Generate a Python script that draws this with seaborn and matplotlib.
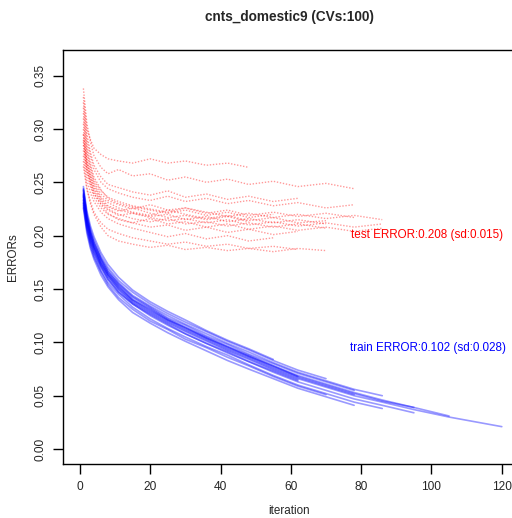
import numpy as np
import pandas as pd
import matplotlib
matplotlib.use('Agg')
import matplotlib.pyplot as plt
import seaborn as sns

sns.set_theme(style='white')
plt.rcParams['font.family'] = ['Liberation Sans', 'DejaVu Sans']

title = 'cnts_domestic9 (CVs:100)'
x_ticks = [0, 20, 40, 60, 80, 100, 120]
y_ticks = [0.00, 0.05, 0.10, 0.15, 0.20, 0.25, 0.30, 0.35]
test_label = 'test ERROR:0.208 (sd:0.015)'
train_label = 'train ERROR:0.102 (sd:0.028)'

iterations = [1, 2, 3, 4, 6, 8, 11, 15, 20, 25, 30, 36, 42, 48, 55, 62, 70, 78, 86, 95, 105, 120]

# train error curves (a sample of the 100 CV runs), each ends at its own iteration
train_curves = [
    [.244, .220, .206, .196, .181, .170, .158, .147, .136, .127, .119, .110, .101, .093, .083, .074, .066],
    [.230, .206, .192, .182, .167, .156, .145, .133, .122, .113, .105, .096, .088, .079, .069, .060, .052, .044, .038],
    [.240, .215, .201, .190, .176, .164, .153, .140, .131, .121, .114, .104, .096, .087, .078, .068],
    [.226, .202, .188, .178, .163, .152, .140, .128, .118, .109, .101, .092, .083, .075, .066, .057, .049, .041],
    [.236, .212, .198, .188, .173, .162, .150, .138, .128, .119, .111, .102, .093, .085, .075, .066, .058, .050, .044, .037, .030, .021],
    [.246, .223, .209, .199, .184, .173, .161, .149, .138, .129, .121, .111, .102, .094, .084],
    [.233, .209, .195, .185, .171, .159, .147, .136, .125, .116, .108, .099, .091, .082, .072, .063, .055, .047, .041, .034],
    [.238, .216, .203, .192, .178, .166, .155, .143, .133, .123, .116, .106, .098, .089, .080, .071, .063, .055],
    [.228, .205, .190, .180, .166, .154, .142, .131, .120, .112, .103, .095, .086, .078, .068, .059, .051],
    [.234, .213, .200, .190, .175, .164, .152, .140, .130, .121, .113, .104, .095, .087, .077, .068, .060, .052, .045, .039, .031],
    [.239, .211, .196, .187, .172, .161, .149, .137, .127, .118, .110, .101, .092, .084, .074, .065],
    [.242, .219, .204, .194, .179, .168, .156, .144, .134, .125, .117, .108, .099, .091, .081, .072, .064, .056, .050],
    [.237, .214, .199, .189, .174, .163, .151, .139, .129, .120, .112, .103, .094, .086, .076, .067, .059, .051],
    [.231, .208, .194, .184, .170, .159, .147, .136, .126, .117, .108, .099, .090, .082, .073, .064],
    [.243, .218, .203, .193, .178, .166, .154, .142, .132, .122, .114, .105, .096, .088, .078, .069, .061, .053, .046, .039],
]

# test error curves (a sample of the 100 CV runs)
test_curves = [
    [.300, .272, .258, .248, .236, .231, .226, .222, .219, .224, .220, .216, .219, .214, .217, .212, .214],
    [.285, .262, .250, .240, .229, .221, .215, .212, .208, .210, .205, .208, .203, .206, .201, .204],
    [.320, .290, .275, .262, .250, .244, .240, .236, .233, .237, .232, .235, .230, .233, .228, .231, .226, .229],
    [.275, .252, .240, .232, .222, .216, .211, .207, .203, .199, .202, .197, .200, .195, .198],
    [.310, .280, .265, .252, .242, .236, .232, .228, .225, .222, .226, .222, .218, .221, .217, .220, .216, .219, .215],
    [.338, .305, .288, .275, .264, .258, .262, .256, .258, .252, .255, .250, .253, .248, .251, .246, .249, .244],
    [.265, .243, .232, .222, .212, .206, .202, .198, .195, .192, .194, .190, .192, .188, .190, .187],
    [.295, .268, .254, .244, .233, .227, .223, .226, .221, .217, .219, .215, .218, .213],
    [.305, .278, .262, .250, .239, .233, .229, .225, .229, .224, .226, .221, .224, .219, .222, .218, .221, .217],
    [.290, .265, .252, .242, .232, .225, .220, .216, .213, .216, .211, .213, .209, .212, .208, .211, .207],
    [.325, .295, .278, .266, .255, .248, .245, .241, .238, .242, .236, .239, .234, .237, .232, .235],
    [.280, .258, .246, .236, .226, .220, .216, .212, .216, .211, .213, .208, .211, .206, .209, .205, .208, .204, .207],
    [.330, .300, .290, .282, .276, .272, .270, .268, .272, .268, .270, .266, .268, .264],
    [.270, .245, .230, .220, .208, .200, .195, .192, .189, .191, .187, .189, .186, .188, .185, .188, .186],
    [.315, .285, .268, .255, .243, .235, .230, .227, .224, .221, .224, .219, .222, .217, .220],
    [.295, .270, .256, .246, .235, .228, .224, .221, .218, .220, .215, .218, .213, .216, .212, .215, .211],
    [.288, .262, .249, .239, .230, .224, .219, .221, .217, .214, .216, .212, .215, .210, .213, .209, .212, .208, .211],
]

rows = []
for name, curves in [('test', test_curves), ('train', train_curves)]:
    for i, vals in enumerate(curves):
        for it, v in zip(iterations, vals):
            rows.append({'cv': name + str(i), 'set': name, 'iteration': it, 'error': v})
df = pd.DataFrame(rows)

fig = plt.figure(figsize=(5.12, 5.18), dpi=100)
ax = fig.add_axes([63 / 512, 1 - 464 / 518, 460 / 512, 414 / 518])

sns.lineplot(data=df[df['set'] == 'test'], x='iteration', y='error', units='cv',
             estimator=None, color='#ff0000', lw=1.0, alpha=0.4,
             linestyle=(0, (1, 1.2)), ax=ax, legend=False)
sns.lineplot(data=df[df['set'] == 'train'], x='iteration', y='error', units='cv',
             estimator=None, color='#0000ff', lw=1.2, alpha=0.4, ax=ax, legend=False)

ax.set_xlim(-4.8, (523 - 80) / 3.515)
ax.set_ylim(-0.014, 0.374)
ax.set_xticks(x_ticks)
ax.set_yticks(y_ticks)
ax.set_xticklabels([str(t) for t in x_ticks])
ax.set_yticklabels(['%.2f' % t for t in y_ticks], rotation=90, va='center')
ax.tick_params(axis='both', direction='out', length=7, width=1, color='black',
               labelsize=8.6, left=True, bottom=True)
ax.tick_params(axis='x', pad=5)
ax.tick_params(axis='y', pad=5)
for s in ax.spines.values():
    s.set_color('black')
    s.set_linewidth(1)

ax.set_xlabel('iteration', fontsize=8.4)
ax.set_ylabel('ERRORs', fontsize=8.4)
ax.xaxis.set_label_coords((289 - 63) / 460, -0.1)
ax.yaxis.set_label_coords(-0.095, 0.5)

ax.text(77.1, 0.2008, test_label, color='#ff0000', fontsize=8.4, ha='left', va='center')
ax.text(76.8, 0.0947, train_label, color='#0000ff', fontsize=8.4, ha='left', va='center')

fig.text(289 / 512, 1 - 17 / 518, title, fontsize=9.8, fontweight='bold',
         ha='center', va='center')

fig.savefig('out.png', dpi=100, facecolor='white')
